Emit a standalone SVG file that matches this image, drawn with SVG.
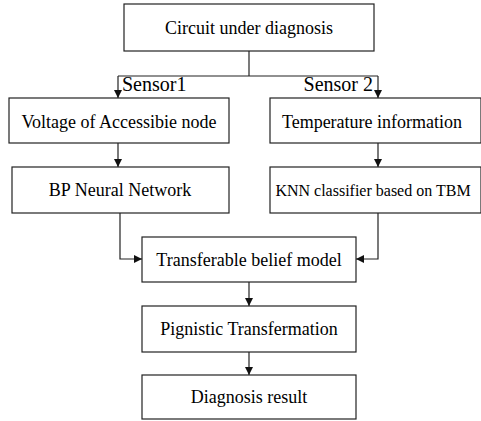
<svg xmlns="http://www.w3.org/2000/svg" width="481" height="421" viewBox="0 0 481 421">
  <style>
    .box { fill: #ffffff; stroke: #222222; stroke-width: 1.2; }
    .edge { fill: none; stroke: #222222; stroke-width: 1.2; }
    .lbl { font-family: "Liberation Serif", "Times New Roman", serif; font-size: 18px; fill: #000000; text-anchor: middle; }
    .small { font-size: 16px; }
    .tag { font-family: "Liberation Serif", "Times New Roman", serif; font-size: 20px; fill: #000000; }
  </style>
  <defs>
    <marker id="arrow" viewBox="0 0 10 10" refX="10" refY="5" markerWidth="8" markerHeight="8" markerUnits="userSpaceOnUse" orient="auto">
      <path d="M0,0 L10,5 L0,10 z" fill="#111111"/>
    </marker>
  </defs>
  <rect width="481" height="421" fill="#ffffff"/>

  <g id="connectors">
    <!-- split from the circuit to both sensors -->
    <path class="edge" d="M249,51 V76"/>
    <path class="edge" d="M118,76 H378"/>
    <path class="edge" d="M118,76 V98" marker-end="url(#arrow)"/>
    <path class="edge" d="M378,76 V98" marker-end="url(#arrow)"/>
    <!-- sensor chains -->
    <path class="edge" d="M118,143 V167" marker-end="url(#arrow)"/>
    <path class="edge" d="M378,143 V167" marker-end="url(#arrow)"/>
    <!-- merge into TBM -->
    <path class="edge" d="M120,213 V259 H142" marker-end="url(#arrow)"/>
    <path class="edge" d="M378,213 V259 H356" marker-end="url(#arrow)"/>
    <!-- main chain -->
    <path class="edge" d="M249,282 V306" marker-end="url(#arrow)"/>
    <path class="edge" d="M249,352 V375" marker-end="url(#arrow)"/>
  </g>

  <g id="sensor-labels">
    <text class="tag" x="122" y="91">Sensor1</text>
    <text class="tag" x="373" y="91" text-anchor="end">Sensor 2</text>
  </g>

  <g id="circuit">
    <rect class="box" x="124" y="4" width="250" height="47"/>
    <text class="lbl" x="249" y="34">Circuit under diagnosis</text>
  </g>

  <g id="voltage">
    <rect class="box" x="9" y="98" width="220" height="45"/>
    <text class="lbl" x="119" y="128">Voltage of Accessibie node</text>
  </g>

  <g id="temperature">
    <rect class="box" x="270" y="98" width="211" height="45"/>
    <text class="lbl" x="372" y="128">Temperature information</text>
  </g>

  <g id="bp-network">
    <rect class="box" x="12" y="167" width="217" height="46"/>
    <text class="lbl" x="120" y="196">BP Neural Network</text>
  </g>

  <g id="knn">
    <rect class="box" x="270" y="167" width="211" height="46"/>
    <text class="lbl small" x="373" y="196">KNN classifier based on TBM</text>
  </g>

  <g id="tbm">
    <rect class="box" x="142" y="237" width="214" height="45"/>
    <text class="lbl" x="249" y="266">Transferable belief model</text>
  </g>

  <g id="pignistic">
    <rect class="box" x="142" y="306" width="214" height="46"/>
    <text class="lbl" x="249" y="335">Pignistic Transfermation</text>
  </g>

  <g id="result">
    <rect class="box" x="142" y="375" width="214" height="44"/>
    <text class="lbl" x="249" y="403">Diagnosis result</text>
  </g>
</svg>
